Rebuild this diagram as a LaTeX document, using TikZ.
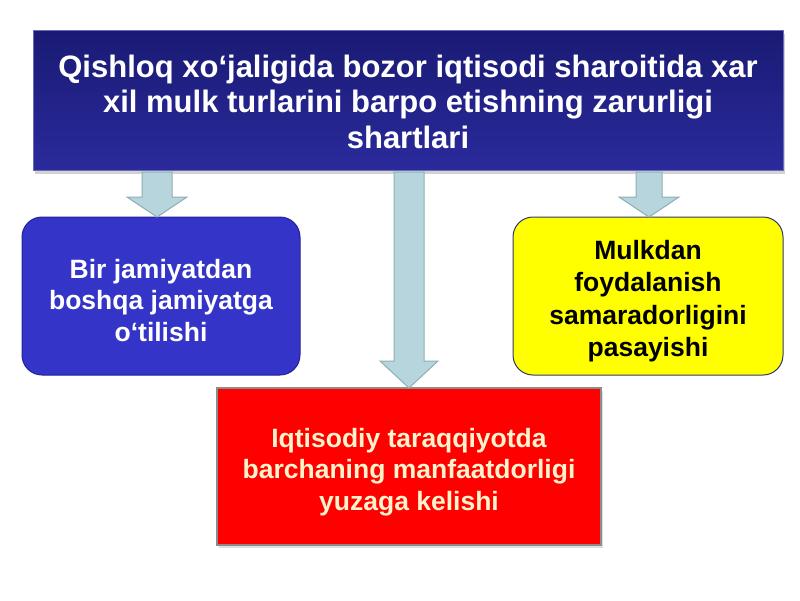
\documentclass[tikz,border=0pt]{standalone}
\usepackage{fontspec}
\setmainfont{Liberation Sans}
\usetikzlibrary{calc,shadows}
\definecolor{navyA}{HTML}{1A1A74}
\definecolor{navyB}{HTML}{2A2A9C}
\definecolor{royal}{HTML}{3434C8}
\definecolor{royalbd}{HTML}{22229A}
\definecolor{yel}{HTML}{FFFF00}
\definecolor{yelbd}{HTML}{2E3A66}
\definecolor{redbd}{HTML}{8C8C8C}
\definecolor{arrfill}{HTML}{B7D5DC}
\definecolor{arrbd}{HTML}{8FAFB5}
\definecolor{cream}{HTML}{FFF3CC}
\tikzset{
  box/.style={inner sep=0pt, outer sep=0pt, align=center, font=\bfseries},
  topbox/.style={box, top color=navyA, bottom color=navyB, draw=navyB!70!white, line width=0.8pt,
     minimum width=750pt, minimum height=140pt, text=white,
     drop shadow={opacity=0.35, shadow xshift=2pt, shadow yshift=-4pt}},
  leftbox/.style={box, fill=royal, draw=royalbd, line width=1pt, rounded corners=20pt,
     minimum width=278pt, minimum height=158pt, text=white},
  yelbox/.style={box, fill=yel, draw=yelbd, line width=1pt, rounded corners=20pt,
     minimum width=270pt, minimum height=158pt, text=black},
  redbox/.style={box, fill=red, draw=redbd, line width=1.2pt,
     minimum width=384pt, minimum height=157pt, text=cream,
     drop shadow={opacity=0.25, shadow xshift=2pt, shadow yshift=-3pt}},
  blk/.style={fill=arrfill, draw=arrbd, line width=1pt, line join=miter}
}
\begin{document}
\begin{tikzpicture}[x=1pt,y=-1pt]
\useasboundingbox[fill=white] (0,0) rectangle (800,600);
\node[topbox] (top) at (408,100) {};
\node[font=\bfseries\fontsize{31}{35.5}\selectfont, text=white, align=center, inner sep=0pt] (toptext) at ($(top.center)+(0,1.5)$)
  {Qishloq xo‘jaligida bozor iqtisodi sharoitida xar\\ xil mulk turlarini barpo etishning zarurligi\\ shartlari};
\node[leftbox] (lb) at (161,296) {};
\node[font=\bfseries\fontsize{26.5}{31.5}\selectfont, text=white, align=center, inner sep=0pt] (lbt) at ($(lb.center)+(0,4.5)$)
  {Bir jamiyatdan\\ boshqa jamiyatga\\ o‘tilishi};
\node[yelbox] (yb) at (648,296) {};
\node[font=\bfseries\fontsize{26.5}{32.3}\selectfont, text=black, align=center, inner sep=0pt] (ybt) at ($(yb.center)+(0,5)$)
  {Mulkdan\\ foydalanish\\ samaradorligini\\ pasayishi};
\node[redbox] (rb) at (409,466.5) {};
\node[font=\bfseries\fontsize{26.5}{31.5}\selectfont, text=cream, align=center, inner sep=0pt] (rbt) at ($(rb.center)+(0,5.5)$)
  {Iqtisodiy taraqqiyotda\\ barchaning manfaatdorligi\\ yuzaga kelishi};
% block arrows
\draw[blk] let \p1=(top.south), \p2=(lb.north) in
  (\x2-19pt,\y1-2pt) -- (\x2+11pt,\y1-2pt) -- (\x2+11pt,\y2+20pt) -- (\x2+26pt,\y2+20pt)
  -- (\x2-4pt,\y2) -- (\x2-34pt,\y2+20pt) -- (\x2-19pt,\y2+20pt) -- cycle;
\draw[blk] let \p1=(top.south), \p2=(rb.north) in
  (\x2-15pt,\y1-2pt) -- (\x2+15pt,\y1-2pt) -- (\x2+15pt,\y2+27pt) -- (\x2+29pt,\y2+27pt)
  -- (\x2,\y2) -- (\x2-29pt,\y2+27pt) -- (\x2-15pt,\y2+27pt) -- cycle;
\draw[blk] let \p1=(top.south), \p2=(yb.north) in
  (\x2-12pt,\y1-2pt) -- (\x2+14pt,\y1-2pt) -- (\x2+14pt,\y2+20pt) -- (\x2+31pt,\y2+20pt)
  -- (\x2+1pt,\y2) -- (\x2-29pt,\y2+20pt) -- (\x2-12pt,\y2+20pt) -- cycle;
\end{tikzpicture}
\end{document}
